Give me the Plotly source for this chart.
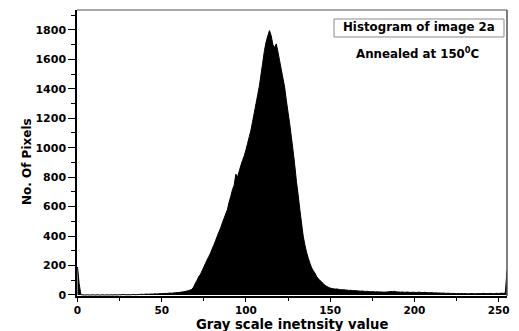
import plotly.graph_objects as go

gray_levels = list(range(256))
pixel_counts = [
    190, 75, 2, 1, 0, 0, 1, 0, 0, 1,
    0, 0, 1, 0, 0, 1, 0, 0, 1, 0,
    1, 0, 1, 1, 0, 2, 1, 3, 2, 1,
    2, 1, 2, 3, 2, 2, 3, 4, 5, 4,
    5, 6, 5, 6, 7, 6, 8, 7, 8, 9,
    9, 10, 11, 10, 12, 13, 12, 14, 15, 16,
    17, 18, 20, 22, 24, 27, 30, 34, 38, 55,
    80, 100, 125, 140, 165, 190, 215, 240, 262, 285,
    315, 340, 370, 400, 430, 455, 490, 520, 550, 580,
    630, 670, 715, 745, 820, 800, 840, 880, 915, 945,
    985, 1030, 1075, 1120, 1180, 1240, 1300, 1360, 1420, 1500,
    1580, 1660, 1720, 1760, 1795, 1760, 1700, 1680, 1705, 1650,
    1590, 1530, 1470, 1410, 1320, 1240, 1160, 1070, 980, 880,
    770, 680, 580, 490, 400, 340, 290, 250, 215, 185,
    165, 148, 125, 110, 98, 88, 75, 66, 58, 52,
    47, 44, 42, 40, 41, 38, 36, 35, 36, 34,
    33, 31, 32, 30, 29, 30, 28, 27, 26, 27,
    25, 24, 25, 23, 22, 23, 22, 21, 22, 20,
    21, 20, 19, 20, 21, 22, 24, 23, 25, 22,
    21, 20, 19, 21, 18, 19, 20, 18, 17, 19,
    18, 17, 18, 19, 17, 16, 18, 17, 16, 15,
    16, 15, 14, 15, 13, 14, 12, 13, 12, 11,
    12, 11, 10, 11, 10, 9, 10, 9, 10, 9,
    10, 9, 8, 9, 10, 9, 8, 9, 10, 9,
    10, 11, 10, 9, 10, 11, 10, 9, 10, 11,
    10, 11, 12, 11, 14, 165,
]
x_ticks = [0, 50, 100, 150, 200, 250]
y_ticks = [0, 200, 400, 600, 800, 1000, 1200, 1400, 1600, 1800]
legend_text = "Histogram of image 2a"
note_text = "Annealed at 150<sup>0</sup>C"
x_title = "Gray scale inetnsity value"
y_title = "No. Of Pixels"

FONT = "DejaVu Sans, Liberation Sans, Arial, sans-serif"

fig = go.Figure()
fig.add_trace(go.Scatter(
    x=gray_levels, y=pixel_counts, mode="lines",
    line=dict(color="black", width=1, simplify=False),
    fill="tozeroy", fillcolor="black",
    showlegend=False,
))

fig.update_layout(
    width=519, height=331,
    margin=dict(l=77, r=12, t=10, b=35),
    paper_bgcolor="white", plot_bgcolor="white",
    font=dict(family=FONT, size=11, color="black"),
    xaxis=dict(
        range=[-0.3, 255], tickvals=x_ticks, automargin=False,
        ticks="outside", ticklen=4, tickwidth=1, tickcolor="black",
        minor=dict(dtick=25, tick0=0, ticks="outside", ticklen=3, tickcolor="black"),
        showline=True, linecolor="black", linewidth=1.5,
        showgrid=False, zeroline=False,
        tickfont=dict(family=FONT, size=10.5, weight="bold"),
    ),
    yaxis=dict(
        range=[-7, 1935], tickvals=y_ticks, automargin=False,
        ticks="outside", ticklen=7, tickwidth=1, tickcolor="black",
        minor=dict(dtick=100, tick0=0, ticks="outside", ticklen=4, tickcolor="black"),
        showline=True, linecolor="black", linewidth=1.5,
        showgrid=False, zeroline=False,
        tickfont=dict(family=FONT, size=11, weight="bold"),
    ),
    shapes=[
        dict(type="line", xref="paper", yref="paper", x0=0, x1=1, y0=1, y1=1,
             line=dict(color="#8a8a8a", width=1.5)),
        dict(type="line", xref="paper", yref="paper", x0=1, x1=1, y0=0, y1=1,
             line=dict(color="#555555", width=1.5)),
        dict(type="rect", xref="paper", yref="paper", x0=0.5977, x1=0.993,
             y0=0.9056, y1=0.9685, line=dict(color="#8a8a8a", width=1),
             fillcolor="white"),
    ],
    annotations=[
        dict(text="<b>" + legend_text + "</b>", xref="paper", yref="paper",
             x=0.795, y=0.9406, xanchor="center", yanchor="middle", showarrow=False,
             font=dict(family=FONT, size=11.8)),
        dict(text="<b>" + note_text + "</b>", xref="paper", yref="paper",
             x=0.793, y=0.8497, xanchor="center", yanchor="middle", showarrow=False,
             font=dict(family=FONT, size=11.8)),
        dict(text="<b>" + x_title + "</b>", xref="paper", yref="paper",
             x=0.501, y=-0.099, xanchor="center", yanchor="middle", showarrow=False,
             font=dict(family=FONT, size=13.2)),
        dict(text="<b>" + y_title + "</b>", xref="paper", yref="paper",
             x=-0.1163, y=0.472, xanchor="center", yanchor="middle", showarrow=False,
             textangle=-90, font=dict(family=FONT, size=12)),
    ],
)

fig.write_html("out.html")
